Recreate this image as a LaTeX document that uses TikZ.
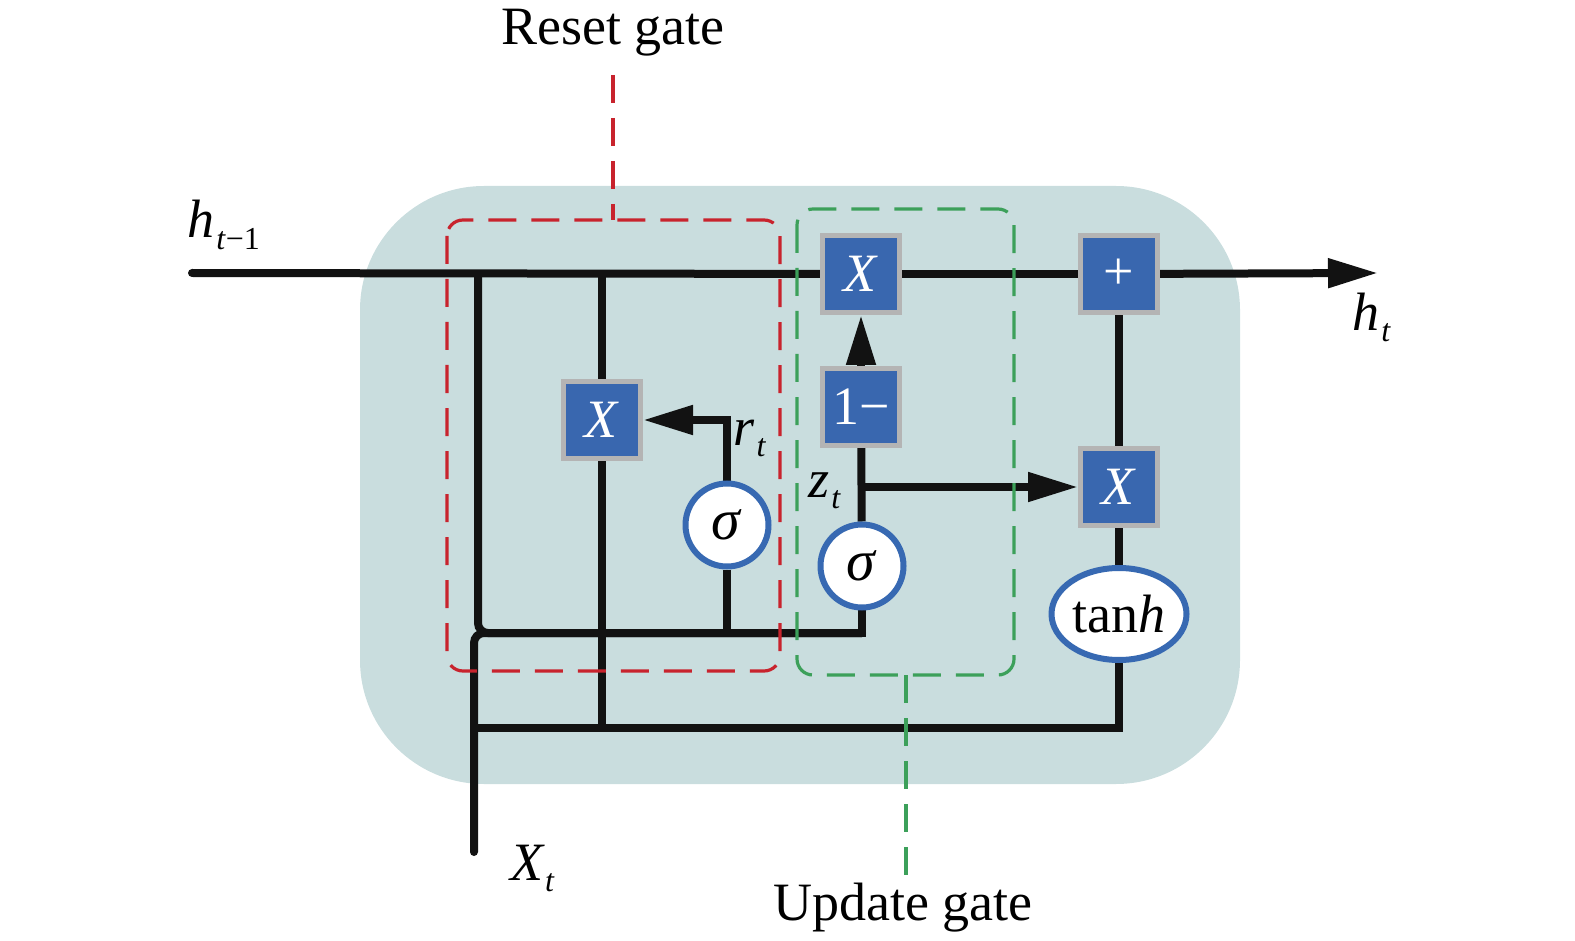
\documentclass[tikz,border=0pt]{standalone}
\usepackage{fontspec}
\setmainfont{Liberation Serif}
\usetikzlibrary{arrows.meta,shapes.geometric}

\definecolor{cellbg}{RGB}{201,221,222}
\definecolor{opblue}{RGB}{57,103,175}
\definecolor{opgray}{RGB}{180,180,180}
\definecolor{ringblue}{RGB}{55,105,178}
\definecolor{resetred}{RGB}{200,35,45}
\definecolor{updgreen}{RGB}{60,160,90}

\pgfdeclarelayer{bg}
\pgfsetlayers{bg,main}

\newcommand{\lowidx}[1]{\raisebox{-0.22em}{\fontsize{16}{16}\selectfont #1}}

\begin{document}
\begin{tikzpicture}[x=0.5pt,y=-0.5pt,
	wire/.style={line width=4pt,black!93},
	flow/.style={-{Triangle[length=25pt,width=14pt]}},
	op/.style={draw=opgray,fill=opblue,line width=2.5pt,minimum size=38.5pt,inner sep=0pt,text=white,font=\fontsize{27}{27}\selectfont},
	act/.style={draw=ringblue,fill=white,line width=3pt,inner sep=0pt,font=\fontsize{27}{27}\selectfont},
	gatebox/.style={line width=1.6pt,dash pattern=on 14pt off 7.5pt,rounded corners=8pt},
	lbl/.style={font=\fontsize{27}{27}\selectfont}]

	\useasboundingbox (0,0) rectangle (1575,941);

	% ---- cell

	\begin{pgfonlayer}{bg}
		\fill[cellbg,rounded corners=62pt] (360,186) rectangle (1240,784);
	\end{pgfonlayer}

	% ---- operators

	\node[op] (mr)  at (602,420)  {\textit{X}};
	\node[op] (mz)  at (861,274)  {\textit{X}};
	\node[op] (one) at (861,407)  {1−};
	\node[op] (add) at (1119,274) {+};
	\node[op] (mh)  at (1119,487) {\textit{X}};

	\node[act,circle,minimum size=41.5pt,font=\fontsize{29}{29}\selectfont] (sr) at (727,525) {\textit{σ}};
	\node[act,circle,minimum size=41.5pt,font=\fontsize{29}{29}\selectfont] (sz) at (862,566) {\textit{σ}};
	\node[act,ellipse,minimum width=67.5pt,minimum height=46pt] (th) at (1119,614) {tan\textit{h}};

	% ---- wire points

	\coordinate (hin)   at (192,273);
	\coordinate (hout)  at (1378,273);
	\coordinate (xin)   at (474,852);
	\coordinate (tapH)  at (478,273);
	\coordinate (tapR)  at (602,273);
	\coordinate (busR)  at (862,633);
	\coordinate (busB)  at (474,728);
	\coordinate (zfork) at (862,487);

	% ---- wires

	\begin{pgfonlayer}{bg}
		\draw[wire,line cap=round] (hin) -- (mz);
		\draw[wire] (mz) -- (add);
		\draw[wire,flow] (add) -- (hout);

		\draw[wire,rounded corners=5pt] (tapH) |- (busR);
		\draw[wire,line cap=round,rounded corners=5pt] (xin) |- (busR);
		\draw[wire,line cap=rect] (busR) -- (sz);
		\draw[wire] (busB) -| (th);

		\draw[wire] (tapR) -- (mr);
		\draw[wire] (mr) -- (mr |- busB);

		\draw[wire] (sr) -- (sr |- busR);
		\draw[wire,flow] (sr) |- (mr);

		\draw[wire] (sz) -- (one);
		\draw[wire,flow] (zfork) -- (mh);
		\draw[wire,flow] (one) -- (mz);

		\draw[wire] (th) -- (mh);
		\draw[wire] (mh) -- (add);
	\end{pgfonlayer}

	% ---- gates

	\draw[gatebox,resetred] (447,220) rectangle (780,671);
	\draw[gatebox,resetred,rounded corners=0pt] (613,75) -- (613,220);

	\draw[gatebox,updgreen] (797,209) rectangle (1014,675);
	\draw[gatebox,updgreen,rounded corners=0pt] (906,675) -- (906,880);

	% ---- labels

	\node[lbl,anchor=base] (lreset) at (613,45) {Reset gate};
	\node[lbl,anchor=base] (lupd)   at (903,920) {Update gate};

	\node[lbl,anchor=base west,inner sep=0pt] (lhin)  at (187,238)  {\textit{h}\kern1pt\lowidx{\textit{t}−1}};
	\node[lbl,anchor=base west,inner sep=0pt] (lhout) at (1352,330) {\textit{h}\kern1pt\lowidx{\textit{t}}};
	\node[lbl,anchor=base west,inner sep=0pt] (lr)    at (733,445)  {\textit{r}\kern1pt\lowidx{\textit{t}}};
	\node[lbl,anchor=base west,inner sep=0pt] (lz)    at (808,497)  {\textit{z}\kern1pt\lowidx{\textit{t}}};
	\node[lbl,anchor=base west,inner sep=0pt] (lx)    at (510,880)  {\textit{X}\lowidx{\textit{t}}};

\end{tikzpicture}
\end{document}
